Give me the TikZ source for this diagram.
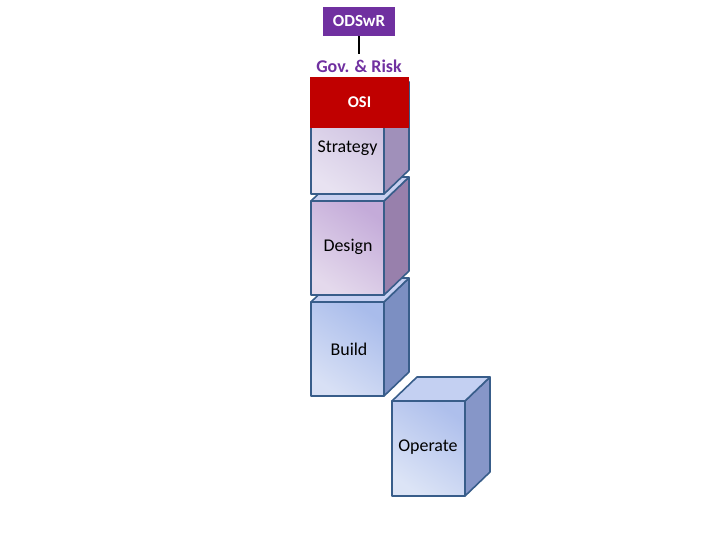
\documentclass[tikz,border=0pt]{standalone}
\usepackage{fontspec}
\setmainfont{Carlito}
\definecolor{edge}{HTML}{385D8A}
\definecolor{govpurple}{HTML}{7030A0}
\definecolor{osired}{HTML}{C00000}
\tikzset{
  edgeline/.style={draw=edge, line width=1.6bp, line join=round},
  lbl/.style={font=\fontsize{18}{21}\selectfont, text=black, inner sep=0pt},
}
% cube: #1,#2 = front top-left corner; #3 front light; #4 front dark; #5 side; #6 top; #7 height
\newcommand\drawcubeface[7]{%
  \definecolor{cubefl}{HTML}{#3}%
  \definecolor{cubefd}{HTML}{#4}%
  \definecolor{cubeside}{HTML}{#5}%
  \definecolor{cubetop}{HTML}{#6}%
  \fill[edgeline, top color=cubefd, bottom color=cubefl, shading angle=-35]
    (#1,#2) rectangle ++(73,#7);
  \fill[edgeline, fill=cubeside] (#1+73,#2) -- ++(25,-24) -- ++(0,#7) -- (#1+73,#2+#7) -- cycle;
  \fill[edgeline, fill=cubetop] (#1,#2) -- ++(25,-24) -- ++(73,0) -- (#1+73,#2) -- cycle;
}
\begin{document}
\begin{tikzpicture}[x=1bp,y=-1bp]
\useasboundingbox (0,0) rectangle (720,540);
% Operate
\drawcubeface{392}{401}{DCE4F6}{AEBFEC}{8696C8}{C4D0F2}{95}
% Build
\drawcubeface{311}{302}{D8E0F5}{A9BCEB}{7C8FC2}{C6D0F2}{94}
% Design
\drawcubeface{311}{201}{E4D9EC}{C4ABD9}{9880AC}{C8D0F0}{94}
% Strategy
\drawcubeface{311}{106}{E8E2F1}{CDC0E0}{A090BA}{D0D4F0}{88}
% OSI box
\node[fill=osired, minimum width=99bp, minimum height=51bp, inner sep=0pt,
      text=white, font=\fontsize{16.5}{19}\selectfont\bfseries]
  (osi) at (359.5,102.5) {OSI};
% ODSwR
\node[fill=govpurple, minimum width=72bp, minimum height=29bp, inner sep=0pt,
      text=white, font=\fontsize{17}{20}\selectfont\bfseries]
  (odswr) at (359,21.5) {ODSwR};
\node[text=govpurple, font=\fontsize{18}{21}\selectfont\bfseries, inner sep=0pt]
  (gov) at (359,66.5) {Gov. \& Risk};
\draw[line width=2.5bp, black] (odswr.south) -- ([yshift=6bp]gov.north);
% labels
\node[lbl] (strategy) at (347.5,148) {Strategy};
\node[lbl] (design) at (348,247) {Design};
\node[lbl] (build) at (349,349) {Build};
\node[lbl] (operate) at (428,447) {Operate};
\end{tikzpicture}
\end{document}
